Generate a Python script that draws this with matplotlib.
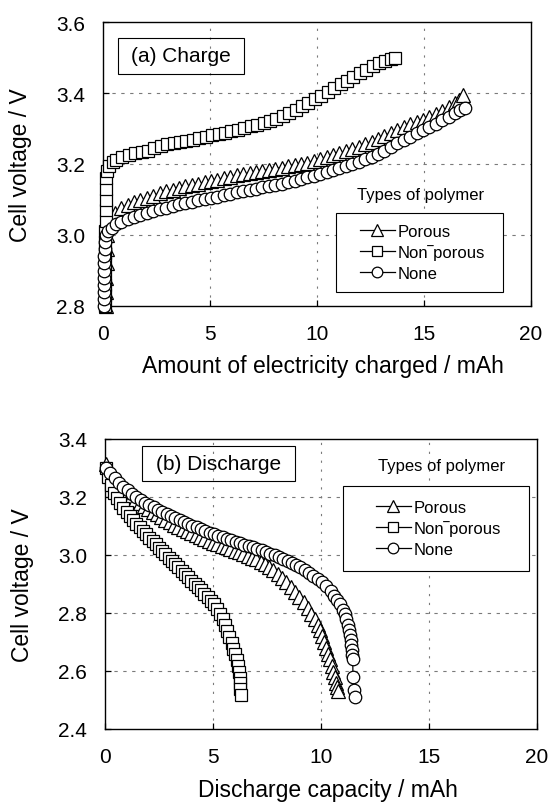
import matplotlib
matplotlib.use("Agg")
import matplotlib.pyplot as plt
from matplotlib.patches import Rectangle

plt.rcParams['font.family'] = ['Liberation Sans', 'DejaVu Sans']

# ---------------- (a) Charge data ----------------
chg_nonporous_x = [0.10, 0.10, 0.10, 0.10, 0.10, 0.10, 0.11, 0.11, 0.12, 0.12, 0.13, 0.14, 0.15, 0.18,
                   0.30, 0.45, 0.60, 0.90, 1.20, 1.50, 1.80, 2.10, 2.40, 2.70, 3.00, 3.30, 3.60, 3.90,
                   4.20, 4.50, 4.80, 5.10, 5.40, 5.70, 6.00, 6.30, 6.60, 6.90, 7.20, 7.50, 7.80, 8.10,
                   8.40, 8.70, 9.00, 9.30, 9.60, 9.90, 10.20, 10.50, 10.80, 11.10, 11.40, 11.70, 12.00,
                   12.30, 12.60, 12.90, 13.20, 13.45, 13.65]
chg_nonporous_v = [2.80, 2.83, 2.86, 2.89, 2.92, 2.95, 2.98, 3.01, 3.04, 3.07, 3.10, 3.13, 3.16, 3.18,
                   3.195, 3.205, 3.212, 3.220, 3.226, 3.230, 3.234, 3.238, 3.244, 3.250, 3.255, 3.258,
                   3.261, 3.265, 3.269, 3.273, 3.277, 3.281, 3.284, 3.288, 3.292, 3.296, 3.301, 3.306,
                   3.311, 3.316, 3.321, 3.328, 3.336, 3.345, 3.353, 3.362, 3.372, 3.382, 3.392, 3.402,
                   3.413, 3.424, 3.435, 3.445, 3.455, 3.465, 3.475, 3.484, 3.491, 3.496, 3.499]

chg_porous_x = [0.15, 0.15, 0.16, 0.17, 0.18, 0.20, 0.26, 0.38, 0.55, 0.85, 1.15, 1.45, 1.75, 2.05,
                2.35, 2.65, 2.95, 3.25, 3.55, 3.85, 4.15, 4.45, 4.75, 5.05, 5.35, 5.65, 5.95, 6.25,
                6.55, 6.85, 7.15, 7.45, 7.75, 8.05, 8.35, 8.65, 8.95, 9.25, 9.55, 9.85, 10.15, 10.45,
                10.75, 11.05, 11.35, 11.65, 11.95, 12.25, 12.55, 12.85, 13.15, 13.45, 13.75, 14.05,
                14.35, 14.65, 14.95, 15.25, 15.55, 15.85, 16.15, 16.45, 16.65, 16.80]
chg_porous_v = [2.80, 2.84, 2.88, 2.92, 2.96, 3.00, 3.025, 3.045, 3.062, 3.075, 3.085, 3.092, 3.099,
                3.105, 3.111, 3.117, 3.123, 3.128, 3.133, 3.137, 3.141, 3.145, 3.149, 3.152, 3.156,
                3.160, 3.164, 3.168, 3.171, 3.175, 3.178, 3.181, 3.184, 3.187, 3.190, 3.193, 3.196,
                3.199, 3.204, 3.209, 3.214, 3.219, 3.225, 3.231, 3.237, 3.243, 3.249, 3.255, 3.262,
                3.270, 3.279, 3.288, 3.297, 3.305, 3.312, 3.318, 3.324, 3.332, 3.341, 3.350, 3.360,
                3.371, 3.381, 3.393]

chg_none_x = [0.03, 0.03, 0.04, 0.04, 0.05, 0.05, 0.06, 0.07, 0.08, 0.10, 0.13, 0.25, 0.40, 0.60,
              0.85, 1.15, 1.45, 1.75, 2.05, 2.35, 2.65, 2.95, 3.25, 3.55, 3.85, 4.15, 4.45, 4.75,
              5.05, 5.35, 5.65, 5.95, 6.25, 6.55, 6.85, 7.15, 7.45, 7.75, 8.05, 8.35, 8.65, 8.95,
              9.25, 9.55, 9.85, 10.15, 10.45, 10.75, 11.05, 11.35, 11.65, 11.95, 12.25, 12.55,
              12.85, 13.15, 13.45, 13.75, 14.05, 14.35, 14.65, 14.95, 15.25, 15.55, 15.85, 16.15,
              16.45, 16.70, 16.90]
chg_none_v = [2.80, 2.82, 2.84, 2.86, 2.88, 2.90, 2.92, 2.94, 2.96, 2.98, 3.00, 3.010, 3.020, 3.030,
              3.038, 3.045, 3.051, 3.056, 3.062, 3.067, 3.072, 3.077, 3.082, 3.086, 3.090, 3.094,
              3.098, 3.102, 3.105, 3.108, 3.112, 3.116, 3.120, 3.124, 3.127, 3.130, 3.134, 3.137,
              3.140, 3.144, 3.148, 3.152, 3.157, 3.162, 3.167, 3.172, 3.178, 3.184, 3.189, 3.195,
              3.201, 3.207, 3.213, 3.220, 3.228, 3.237, 3.248, 3.259, 3.268, 3.277, 3.286, 3.295,
              3.304, 3.313, 3.323, 3.333, 3.343, 3.351, 3.357]

# ---------------- (b) Discharge data ----------------
dis_porous_x = [0.05, 0.20, 0.40, 0.60, 0.80, 1.00, 1.20, 1.40, 1.60, 1.80, 2.00, 2.20, 2.40, 2.60,
                2.80, 3.00, 3.20, 3.40, 3.60, 3.80, 4.00, 4.20, 4.40, 4.60, 4.80, 5.00, 5.20, 5.40,
                5.60, 5.80, 6.00, 6.20, 6.40, 6.60, 6.80, 7.00, 7.20, 7.40, 7.60, 7.80, 8.00, 8.20,
                8.40, 8.60, 8.80, 9.00, 9.20, 9.40, 9.55, 9.70, 9.85, 9.95, 10.05, 10.15, 10.25,
                10.33, 10.42, 10.50, 10.57, 10.64, 10.70, 10.75, 10.80]
dis_porous_v = [3.315, 3.285, 3.258, 3.240, 3.226, 3.213, 3.201, 3.190, 3.180, 3.170, 3.160, 3.150,
                3.141, 3.132, 3.122, 3.113, 3.105, 3.097, 3.090, 3.083, 3.076, 3.069, 3.062, 3.056,
                3.049, 3.043, 3.037, 3.032, 3.026, 3.021, 3.015, 3.009, 3.003, 2.997, 2.991, 2.985,
                2.977, 2.968, 2.958, 2.947, 2.935, 2.922, 2.907, 2.890, 2.873, 2.856, 2.837, 2.816,
                2.798, 2.778, 2.757, 2.740, 2.720, 2.700, 2.680, 2.660, 2.640, 2.618, 2.598, 2.578,
                2.560, 2.545, 2.530]

dis_nonporous_x = [0.05, 0.15, 0.28, 0.42, 0.56, 0.70, 0.85, 1.00, 1.15, 1.30, 1.45, 1.60, 1.75,
                   1.90, 2.05, 2.20, 2.35, 2.50, 2.65, 2.80, 2.95, 3.10, 3.25, 3.40, 3.55, 3.70,
                   3.85, 4.00, 4.15, 4.30, 4.45, 4.60, 4.75, 4.90, 5.05, 5.20, 5.32, 5.45, 5.56,
                   5.66, 5.76, 5.86, 5.94, 6.02, 6.09, 6.15, 6.20, 6.24, 6.26, 6.27, 6.28]
dis_nonporous_v = [3.300, 3.268, 3.240, 3.215, 3.195, 3.178, 3.162, 3.147, 3.133, 3.120, 3.107,
                   3.095, 3.083, 3.071, 3.060, 3.048, 3.037, 3.025, 3.013, 3.002, 2.991, 2.980,
                   2.969, 2.957, 2.946, 2.935, 2.924, 2.912, 2.901, 2.890, 2.878, 2.866, 2.854,
                   2.843, 2.830, 2.813, 2.797, 2.778, 2.758, 2.738, 2.717, 2.697, 2.677, 2.657,
                   2.637, 2.617, 2.597, 2.577, 2.557, 2.537, 2.517]

dis_none_x = [0.05, 0.25, 0.45, 0.65, 0.85, 1.05, 1.25, 1.45, 1.65, 1.85, 2.05, 2.25, 2.45, 2.65,
              2.85, 3.05, 3.25, 3.45, 3.65, 3.85, 4.05, 4.25, 4.45, 4.65, 4.85, 5.05, 5.25, 5.45,
              5.65, 5.85, 6.05, 6.25, 6.45, 6.65, 6.85, 7.05, 7.25, 7.45, 7.65, 7.85, 8.05, 8.25,
              8.45, 8.65, 8.85, 9.05, 9.25, 9.45, 9.65, 9.85, 10.05, 10.25, 10.45, 10.60, 10.75,
              10.88, 11.00, 11.10, 11.18, 11.25, 11.30, 11.35, 11.38, 11.40, 11.42, 11.45, 11.47,
              11.48, 11.53, 11.58]
dis_none_v = [3.300, 3.282, 3.265, 3.250, 3.236, 3.223, 3.211, 3.200, 3.190, 3.181, 3.172, 3.164,
              3.156, 3.148, 3.140, 3.133, 3.126, 3.119, 3.113, 3.107, 3.101, 3.095, 3.089, 3.083,
              3.077, 3.071, 3.066, 3.061, 3.056, 3.051, 3.046, 3.041, 3.036, 3.031, 3.026, 3.021,
              3.016, 3.011, 3.005, 2.999, 2.993, 2.987, 2.981, 2.974, 2.966, 2.958, 2.949, 2.939,
              2.929, 2.918, 2.906, 2.892, 2.876, 2.860, 2.845, 2.830, 2.812, 2.795, 2.778, 2.760,
              2.742, 2.725, 2.708, 2.690, 2.672, 2.655, 2.640, 2.578, 2.535, 2.510]

labels = ['Porous', 'Non\u203eporous', 'None']
markers = ['^', 's', 'o']
msizes = [9.6, 8.4, 9.0]

W, H = 548, 804
fig = plt.figure(figsize=(W / 100, H / 100), dpi=100)

def px_axes(l, t, r, b):
    return fig.add_axes([l / W, 1 - b / H, (r - l) / W, (b - t) / H])

ax1 = px_axes(103, 23, 531, 307)
ax2 = px_axes(105, 440, 537, 730)

def style(ax, ylim, yticks, xlabel, tag, tagbox, leg_frame, leg_title, leg_anchor):
    ax.set_xlim(0, 20)
    ax.set_ylim(*ylim)
    ax.set_xticks([0, 5, 10, 15, 20])
    ax.set_yticks(yticks)
    ax.set_yticklabels([f"{v:.1f}" for v in yticks])
    ax.tick_params(direction='in', length=4, width=0.9, labelsize=15, top=False, right=False)
    ax.tick_params(axis='x', pad=13)
    ax.tick_params(axis='y', pad=13)
    for s in ax.spines.values():
        s.set_linewidth(1.0)
    for v in yticks[1:-1]:
        ax.axhline(v, color='#7a7a7a', lw=0.8, ls=(0, (3, 5)), zorder=0)
    for v in [5, 10, 15]:
        ax.axvline(v, color='#7a7a7a', lw=0.8, ls=(0, (2, 6)), zorder=0)
    ax.set_ylabel('Cell voltage / V', fontsize=16.5)
    ax.yaxis.set_label_coords(-0.165, 0.5)
    ax.set_xlabel(xlabel, fontsize=16.5)
    ax.xaxis.set_label_coords(0.515, -0.17)
    x0, y0, x1, y1 = tagbox
    ax.add_patch(Rectangle((x0, y0), x1 - x0, y1 - y0, transform=ax.transAxes,
                           fill=False, ec='black', lw=0.8, zorder=5))
    ax.text((x0 + x1) / 2, (y0 + y1) / 2, tag, transform=ax.transAxes, ha='center',
            va='center', fontsize=15, zorder=6)
    fx0, fy0, fx1, fy1 = leg_frame
    ax.add_patch(Rectangle((fx0, fy0), fx1 - fx0, fy1 - fy0, transform=ax.transAxes,
                           fill=True, fc='white', ec='black', lw=0.8, zorder=5))
    ax.text(leg_title[0], leg_title[1], 'Types of polymer', transform=ax.transAxes,
            ha='center', va='center', fontsize=12, zorder=6)
    leg = ax.legend(loc='center left', bbox_to_anchor=leg_anchor, frameon=False, fontsize=12,
                    handlelength=2.1, handletextpad=0.15, labelspacing=0.33, borderpad=0,
                    borderaxespad=0, markerscale=0.85)
    leg.set_zorder(7)

def draw(ax, xs, vs):
    for x, v, lab, m, ms in zip(xs, vs, labels, markers, msizes):
        ax.plot(x, v, color='black', lw=0.9, marker=m, ms=ms, mfc='white', mec='black',
                mew=0.9, label=lab, clip_on=False, zorder=3)

draw(ax1, [chg_porous_x, chg_nonporous_x, chg_none_x],
     [chg_porous_v, chg_nonporous_v, chg_none_v])
style(ax1, (2.8, 3.6), [2.8, 3.0, 3.2, 3.4, 3.6], 'Amount of electricity charged / mAh',
      '(a) Charge', (0.035, 0.817, 0.329, 0.944), (0.544, 0.049, 0.935, 0.327),
      (0.741, 0.394), (0.600, 0.190))

draw(ax2, [dis_porous_x, dis_nonporous_x, dis_none_x],
     [dis_porous_v, dis_nonporous_v, dis_none_v])
style(ax2, (2.4, 3.4), [2.4, 2.6, 2.8, 3.0, 3.2, 3.4], 'Discharge capacity / mAh',
      '(b) Discharge', (0.086, 0.855, 0.440, 0.976), (0.551, 0.545, 0.981, 0.838),
      (0.78, 0.907), (0.627, 0.693))

fig.savefig('out.png', dpi=100)
